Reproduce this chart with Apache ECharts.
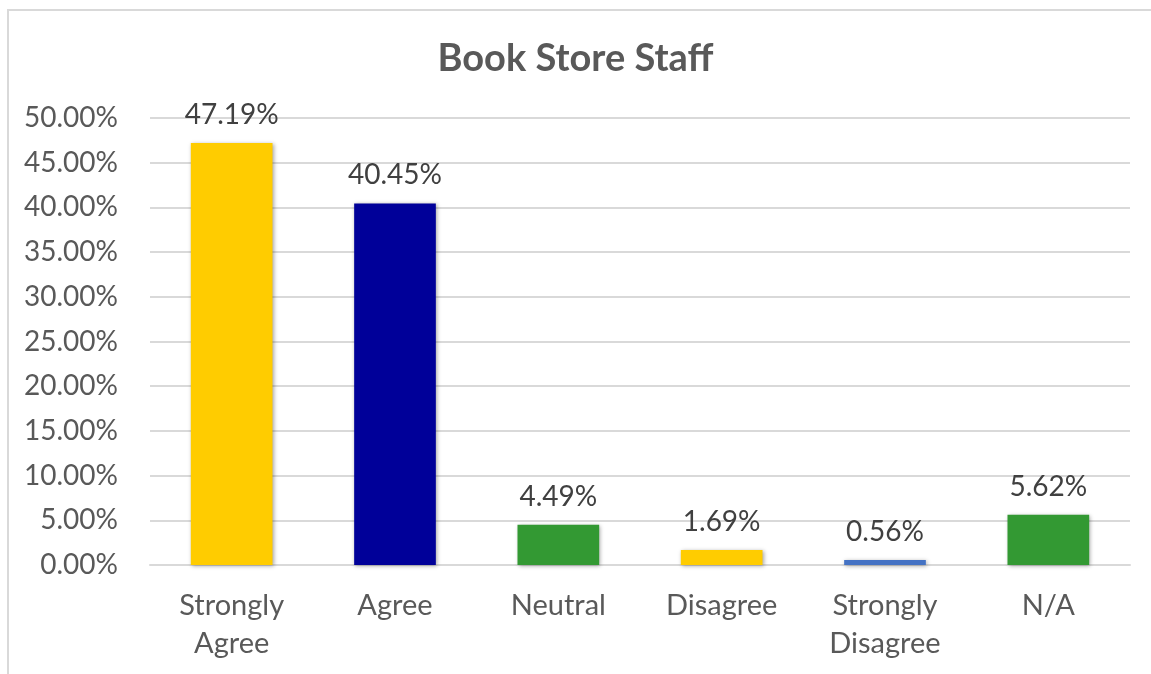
<!DOCTYPE html>
<html>
<head>
<meta charset="utf-8">
<script src="https://cdn.jsdelivr.net/npm/echarts@6/dist/echarts.min.js"></script>
<style>
  html, body { margin: 0; padding: 0; background: #fff; overflow: hidden; }
  #frame { position: absolute; left: 7px; top: 9px; width: 1150px; height: 670px;
           border-top: 2px solid #d9d9d9; border-left: 2px solid #d9d9d9; }
  #main { position: absolute; left: 0; top: 0; width: 1151px; height: 674px; }
</style>
</head>
<body>
<div id="frame"></div>
<div id="main"></div>
<script>
// Book Store Staff survey responses (percent)
const categories = ['Strongly\nAgree', 'Agree', 'Neutral', 'Disagree', 'Strongly\nDisagree', 'N/A'];
const values = [47.19, 40.45, 4.49, 1.69, 0.56, 5.62];
const barColors = ['#FFCC00', '#000099', '#339933', '#FFCC00', '#4472C4', '#339933'];

const fontFamily = 'Lato, "Open Sans", sans-serif';
const textColor = '#595959';

let chart = echarts.init(document.getElementById('main'));

const chartOptions = {
    animation: false,
    title: {
        text: 'Book Store Staff',
        left: 'center',
        top: 35,
        textStyle: { color: textColor, fontWeight: 'bold', fontSize: 38, fontFamily: fontFamily }
    },
    grid: { left: 150, right: 21, top: 118, bottom: 109 },
    xAxis: {
        type: 'category',
        data: categories,
        axisLine: { lineStyle: { color: '#d9d9d9', width: 2 } },
        axisTick: { show: false },
        axisLabel: { color: textColor, fontSize: 29, fontFamily: fontFamily, lineHeight: 38, margin: 22 }
    },
    yAxis: {
        type: 'value',
        min: 0,
        max: 50,
        interval: 5,
        axisLine: { show: false },
        axisTick: { show: false },
        splitLine: { lineStyle: { color: '#d9d9d9', width: 2 } },
        axisLabel: {
            color: textColor, fontSize: 28, fontFamily: fontFamily, margin: 32,
            formatter: v => v.toFixed(2) + '%'
        }
    },
    series: [{
        type: 'bar',
        barWidth: '50%',
        data: values.map((v, i) => ({
            value: v,
            itemStyle: { color: barColors[i] }
        })),
        itemStyle: {
            shadowBlur: 4,
            shadowColor: 'rgba(0,0,0,0.35)',
            shadowOffsetX: 1,
            shadowOffsetY: 1
        },
        label: {
            show: true,
            position: 'top',
            distance: 14,
            color: '#404040',
            fontSize: 28,
            fontFamily: fontFamily,
            formatter: p => p.value.toFixed(2) + '%'
        }
    }]
};
chart.setOption(chartOptions);
</script>
</body>
</html>
